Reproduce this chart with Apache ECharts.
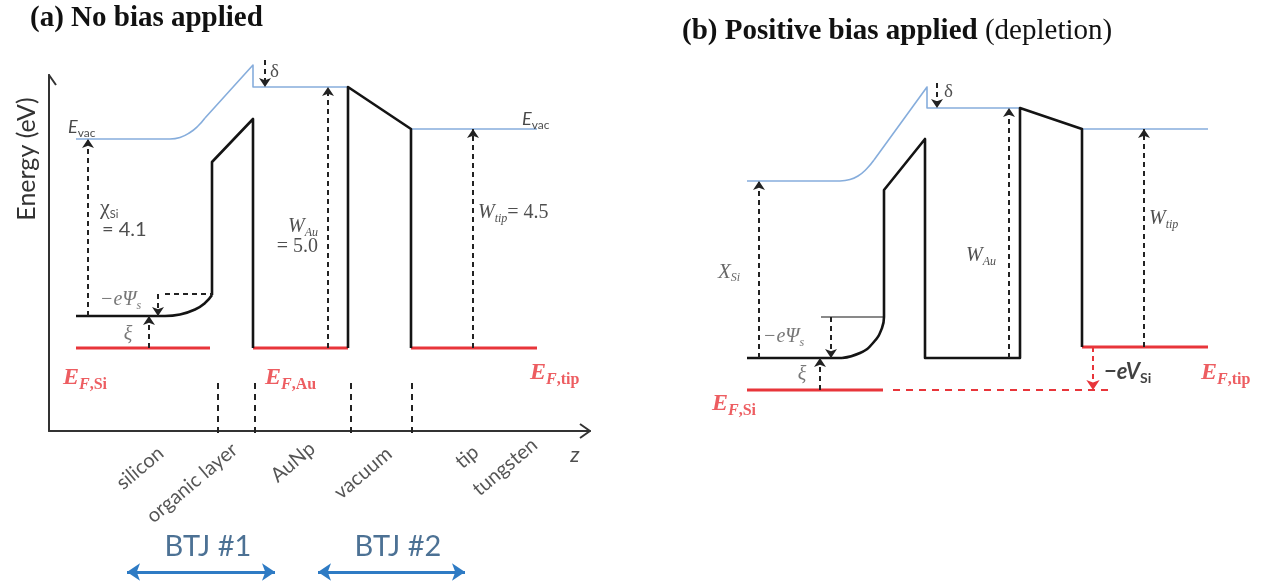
<!DOCTYPE html>
<html><head><meta charset="utf-8">
<script src="https://cdn.jsdelivr.net/npm/echarts@6/dist/echarts.min.js"></script>
<style>html,body{margin:0;padding:0;background:#fff}#c{width:1268px;height:585px}</style>
</head><body><div id="c"></div>
<script>
// ---- Panel (a): z position (arb. units) vs energy (eV, relative to E_F) ----
const aVacSiFlat = [[2.7,4.18],[12.1,4.18]];
const aVacSiBend = [[12.1,4.18],[13.1,4.21],[14.1,4.31],[14.9,4.44],[15.6,4.60]];
const aVacSiRise = [[15.6,4.60],[20.4,5.66],[20.4,5.22],[29.9,5.22]];
const aVacTip = [[36.2,4.38],[48.8,4.38]];
const aCbSiFlat = [[2.7,0.64],[11.6,0.64]];
const aCbSiBend = [[11.6,0.64],[13.1,0.67],[14.6,0.77],[15.6,0.9],[16.3,1.06]];
const aOrganic = [[16.3,1.06],[16.3,3.72],[20.4,4.58],[20.4,0]];
const aVacuum = [[29.9,0],[29.9,5.22],[36.2,4.38],[36.2,0]];
const aFermiSi = [[2.7,0],[16.1,0]];
const aFermiAu = [[20.4,0],[29.9,0]];
const aFermiTip = [[36.2,0],[48.8,0]];
const aPsiRef = [[11.6,1.08],[16.3,1.08]];
const aArrows = [
  [[3.9,0.64],[3.9,4.18]],   // chi_Si
  [[10.0,0],[10.0,0.64]],    // xi
  [[10.9,1.08],[10.9,0.64]], // -e Psi_s
  [[27.9,0],[27.9,5.22]],    // W_Au
  [[42.4,0],[42.4,4.38]],    // W_tip
  [[21.6,5.76],[21.6,5.22]]  // delta
];
const aSeparators = [16.9, 20.6, 30.2, 36.3];
const aSepRange = [-0.7, -1.78];
const aAxisHeads = [[[53.1,-1.52],[54.1,-1.66],[53.1,-1.80]], [[-0.7,5.26],[0,5.46],[0.7,5.26]]];
const btjArrows = [[[7.8,-4.48],[22.6,-4.48]], [[26.9,-4.48],[41.6,-4.48]]];
const regionLabels = ['silicon','organic layer','AuNp','vacuum','tip','tungsten'];
const regionAt = [[9.1,-2.4],[14.3,-2.7],[24.4,-2.28],[31.4,-2.5],[41.8,-2.18],[45.6,-2.38]];
const btjLabels = ['BTJ #1','BTJ #2'];
const btjAt = [[15.9,-3.98],[34.9,-3.98]];

// ---- Panel (b): positive bias (depletion) ----
const bVacSiFlat = [[7.8,3.32],[17.1,3.32]];
const bVacSiBend = [[17.1,3.32],[18.1,3.35],[18.9,3.42],[19.7,3.55],[20.5,3.74]];
const bVacSiRise = [[20.5,3.74],[25.8,5.2],[25.8,4.78],[35.1,4.78]];
const bVacTip = [[41.3,4.36],[53.9,4.36]];
const bCbSiFlat = [[7.8,-0.22],[17.3,-0.22]];
const bCbSiBend = [[17.3,-0.22],[19.1,-0.12],[20.4,0.08],[21.3,0.38],[21.5,0.6]];
const bOrganic = [[21.5,0.6],[21.5,3.14],[25.6,4.16],[25.6,-0.22],[35.1,-0.22],[35.1,4.78],[41.3,4.36],[41.3,0]];
const bPsiRef = [[15.2,0.6],[21.5,0.6]];
const bFermiSi = [[7.8,-0.86],[21.4,-0.86]];
const bFermiSiDash = [[22.4,-0.86],[44.3,-0.86]];
const bFermiTip = [[41.3,0],[53.9,0]];
const bArrows = [
  [[9.0,-0.22],[9.0,3.32]],   // chi_Si
  [[16.2,0.6],[16.2,-0.22]],  // -e Psi_s
  [[15.1,-0.86],[15.1,-0.22]],// xi
  [[34.0,-0.22],[34.0,4.78]], // W_Au
  [[47.5,0],[47.5,4.36]],     // W_tip
  [[26.8,5.28],[26.8,4.78]]   // delta
];
const bBiasArrow = [[[42.4,0],[42.4,-0.86]]];

const aNotes = [
  {t:'{ev|E}{evs|vac}', at:[1.9,4.42], pos:'right'},
  {t:'{ev|E}{evs|vac}', at:[47.3,4.58], pos:'right'},
  {t:'{chi|χ}{chis|Si}', at:[5.1,2.8], pos:'right'},
  {t:'{cal|= 4.1}', at:[5.3,2.36], pos:'right'},
  {t:'{tw|W}{tws|Au}', at:[26.9,2.42], pos:'left'},
  {t:'{tn|= 5.0}', at:[26.9,2.02], pos:'left'},
  {t:'{tw|W}{tws|tip}{tn|= 4.5}', at:[42.9,2.7], pos:'right'},
  {t:'{gp|−eΨ}{gps|s}', at:[5.1,0.96], pos:'right'},
  {t:'{gp|ξ}', at:[7.9,0.26], pos:'inside'},
  {t:'{fe|E}{ff|F}{fs|,Si}', at:[1.4,-0.6], pos:'right'},
  {t:'{fe|E}{ff|F}{fs|,Au}', at:[21.6,-0.6], pos:'right'},
  {t:'{fe|E}{ff|F}{fs|,tip}', at:[48.1,-0.5], pos:'right'},
  {t:'{dl|δ}', at:[22.1,5.52], pos:'right'},
  {t:'{zz|z}', at:[52.6,-2.14], pos:'inside'}
];
const bNotes = [
  {t:'{tx|X}{txs|Si}', at:[4.9,1.5], pos:'right'},
  {t:'{gp|−eΨ}{gps|s}', at:[9.4,0.2], pos:'right'},
  {t:'{gp|ξ}', at:[13.3,-0.56], pos:'inside'},
  {t:'{fe|E}{ff|F}{fs|,Si}', at:[4.3,-1.14], pos:'right'},
  {t:'{tw|W}{tws|Au}', at:[29.7,1.82], pos:'right'},
  {t:'{tw|W}{tws|tip}', at:[48.0,2.56], pos:'right'},
  {t:'{vb|−eV}{vbs|Si}', at:[43.5,-0.5], pos:'right'},
  {t:'{fe|E}{ff|F}{fs|,tip}', at:[53.2,-0.52], pos:'right'},
  {t:'{dl|δ}', at:[27.5,5.1], pos:'right'}
];

const RED = '#E8353A', BLK = '#141414', BLUE = '#86ADDC', DASH = '#222';
const rich = {
  ev:{fontFamily:'Lato',fontStyle:'italic',fontSize:18,color:'#1a1a1a',lineHeight:24},
  evs:{fontFamily:'Lato',fontSize:12,color:'#1a1a1a',lineHeight:24,verticalAlign:'bottom'},
  chi:{fontFamily:'Liberation Serif',fontSize:22,color:'#222',lineHeight:24},
  chis:{fontFamily:'Lato',fontSize:11,color:'#222',lineHeight:24,verticalAlign:'bottom'},
  cal:{fontFamily:'Lato',fontSize:20,color:'#222'},
  tw:{fontFamily:'Liberation Serif',fontStyle:'italic',fontSize:20,color:'#222',lineHeight:24},
  tws:{fontFamily:'Liberation Serif',fontStyle:'italic',fontSize:12,color:'#222',lineHeight:24,verticalAlign:'bottom'},
  tn:{fontFamily:'Liberation Serif',fontSize:20,color:'#222',lineHeight:24},
  tx:{fontFamily:'Liberation Serif',fontStyle:'italic',fontSize:21,color:'#444',lineHeight:24},
  txs:{fontFamily:'Liberation Serif',fontStyle:'italic',fontSize:12,color:'#444',lineHeight:24,verticalAlign:'bottom'},
  gp:{fontFamily:'Liberation Serif',fontStyle:'italic',fontSize:20,color:'#555',lineHeight:24},
  gps:{fontFamily:'Liberation Serif',fontStyle:'italic',fontSize:12,color:'#555',lineHeight:24,verticalAlign:'bottom'},
  fe:{fontFamily:'Liberation Serif',fontStyle:'italic',fontWeight:'bold',fontSize:24,color:RED,lineHeight:30},
  ff:{fontFamily:'Liberation Serif',fontStyle:'italic',fontWeight:'bold',fontSize:16,color:RED,lineHeight:30,verticalAlign:'bottom'},
  fs:{fontFamily:'Liberation Serif',fontWeight:'bold',fontSize:16,color:RED,lineHeight:30,verticalAlign:'bottom'},
  vb:{fontFamily:'Lato',fontStyle:'italic',fontWeight:'bold',fontSize:22,color:'#111',lineHeight:26},
  vbs:{fontFamily:'Lato',fontWeight:'bold',fontSize:14,color:'#111',lineHeight:26,verticalAlign:'bottom'},
  dl:{fontFamily:'Liberation Serif',fontSize:19,color:'#222'},
  rot:{fontFamily:'Lato',fontSize:20,color:'#2a2a2a'},
  zz:{fontFamily:'Lato',fontStyle:'italic',fontSize:22,color:'#222'},
  btj:{fontFamily:'Lato',fontSize:29,color:'#1F4E79'}
};

function line(p, data, color, width, extra){
  return Object.assign({type:'line', xAxisIndex:p, yAxisIndex:p, data:data, showSymbol:false, symbol:'none',
    clip:false, silent:true, animation:false, lineStyle:{color:color, width:width, join:'round', cap:'butt'}}, extra||{});
}
function arrows(p, list, color, width, sym, size, dash){
  return {type:'lines', coordinateSystem:'cartesian2d', xAxisIndex:p, yAxisIndex:p, clip:false, silent:true, animation:false,
    symbol:sym, symbolSize:size, data:list.map(c=>({coords:c})),
    lineStyle:{color:color, width:width, type:dash, opacity:1}, z:4};
}
function notes(p, list){
  return {type:'scatter', xAxisIndex:p, yAxisIndex:p, symbolSize:0, clip:false, silent:true, animation:false, z:6,
    data:list.map(n=>({value:n.at, label:{show:true, formatter:n.t, position:n.pos, distance:0, rotate:n.rot||0, rich:rich}}))};
}

const series = [];
// panel a
[aFermiSi,aFermiAu,aFermiTip].forEach(d=>series.push(line(0,d,RED,3)));
[aVacSiFlat,aVacSiRise,aVacTip].forEach(d=>series.push(line(0,d,BLUE,1.6)));
series.push(line(0,aVacSiBend,BLUE,1.6,{smooth:true}));
[aCbSiFlat,aOrganic,aVacuum].forEach(d=>series.push(line(0,d,BLK,2.6)));
series.push(line(0,aCbSiBend,BLK,2.6,{smooth:true}));
series.push(line(0,aPsiRef,DASH,2,{lineStyle:{color:DASH,width:2,type:[5,4]}}));
aSeparators.forEach(z=>series.push(line(0,[[z,aSepRange[0]],[z,aSepRange[1]]],DASH,2,{lineStyle:{color:DASH,width:2,type:[6,5]}})));
aAxisHeads.forEach(d=>series.push(line(0,d,'#333',2)));
series.push(arrows(0,aArrows,DASH,2,['none','arrow'],9,[5,4]));
series.push(arrows(0,btjArrows,'#2E7BC4',3,['arrow','arrow'],13,'solid'));
series.push(notes(0,aNotes));
series.push(notes(0,regionLabels.map((t,i)=>({t:'{rot|'+t+'}', at:regionAt[i], pos:'inside', rot:40}))));
series.push(notes(0,btjLabels.map((t,i)=>({t:'{btj|'+t+'}', at:btjAt[i], pos:'inside'}))));
// panel b
[bFermiSi,bFermiTip].forEach(d=>series.push(line(1,d,RED,3)));
series.push(line(1,bFermiSiDash,RED,2,{lineStyle:{color:RED,width:2,type:[7,6]}}));
[bVacSiFlat,bVacSiRise,bVacTip].forEach(d=>series.push(line(1,d,BLUE,1.6)));
series.push(line(1,bVacSiBend,BLUE,1.6,{smooth:true}));
[bCbSiFlat,bOrganic].forEach(d=>series.push(line(1,d,BLK,2.6)));
series.push(line(1,bCbSiBend,BLK,2.6,{smooth:true}));
series.push(line(1,bPsiRef,BLK,1.2));
series.push(arrows(1,bArrows,DASH,2,['none','arrow'],9,[5,4]));
series.push(arrows(1,bBiasArrow,RED,2,['none','arrow'],10,[5,4]));
series.push(notes(1,bNotes));

const hidden = {show:false};
const chart = echarts.init(document.getElementById('c'), null, {renderer:'canvas'});
chart.setOption({
  animation:false,
  backgroundColor:'#fff',
  grid:[{left:49, top:75, width:541, height:356}, {left:669, top:74, width:541, height:356}],
  xAxis:[
    {type:'value', gridIndex:0, min:0, max:54.1, axisLine:{show:true, onZero:false, lineStyle:{color:'#333', width:2}},
     axisTick:hidden, axisLabel:hidden, splitLine:hidden},
    {type:'value', gridIndex:1, min:0, max:54.1, show:false}
  ],
  yAxis:[
    {type:'value', gridIndex:0, min:-1.66, max:5.46, axisLine:{show:true, onZero:false, lineStyle:{color:'#333', width:2}},
     axisTick:hidden, axisLabel:hidden, splitLine:hidden},
    {type:'value', gridIndex:1, min:-1.66, max:5.46, show:false}
  ],
  graphic:[
    {type:'text', left:30, top:4, style:{text:'(a) No bias applied', font:'bold 29px "Liberation Serif"', fill:'#111'}},
    {type:'text', left:682, top:17, style:{text:'{b|(b) Positive bias applied }{n|(depletion)}', rich:{
      b:{font:'bold 29px "Liberation Serif"', fill:'#111'}, n:{font:'29px "Liberation Serif"', fill:'#111'}}}},
    {type:'text', x:27, y:159, rotation:Math.PI/2, style:{text:'Energy (eV)', font:'25px Lato', fill:'#333', align:'center', verticalAlign:'middle'}}
  ],
  series:series
});
</script></body></html>
